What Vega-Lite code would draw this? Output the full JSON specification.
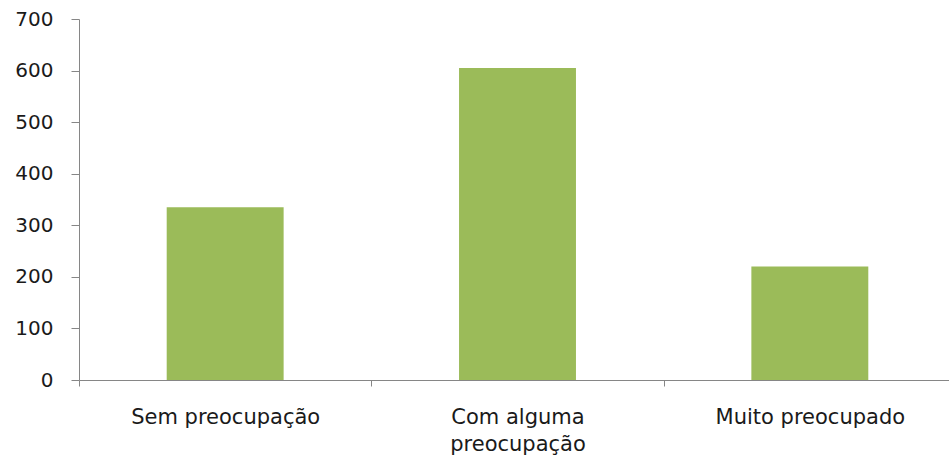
{
  "$schema": "https://vega.github.io/schema/vega-lite/v6.json",
  "autosize": {"type": "none"},
  "padding": {"left": 79, "top": 19, "right": 0, "bottom": 75},
  "width": 877,
  "height": 361,
  "background": "#ffffff",
  "data": {
    "values": [
      {"categoria": "Sem preocupação", "valor": 335},
      {"categoria": "Com alguma preocupação", "valor": 605},
      {"categoria": "Muito preocupado", "valor": 220}
    ]
  },
  "mark": {"type": "bar", "color": "#9BBB59", "width": {"band": 0.4}},
  "encoding": {
    "x": {
      "field": "categoria",
      "type": "nominal",
      "sort": null,
      "scale": {"paddingInner": 0, "paddingOuter": 0},
      "axis": {
        "title": null,
        "labelAngle": 0,
        "tickBand": "extent",
        "tickSize": 6,
        "labelPadding": 20,
        "labelFont": "DejaVu Sans",
        "labelFontSize": 21,
        "labelColor": "#1a1a1a",
        "labelLineHeight": 27,
        "labelExpr": "datum.value == 'Com alguma preocupação' ? ['Com alguma', 'preocupação'] : datum.value",
        "domainColor": "#868686",
        "tickColor": "#868686",
        "labelLimit": 400
      }
    },
    "y": {
      "field": "valor",
      "type": "quantitative",
      "scale": {"domain": [0, 700], "nice": false},
      "axis": {
        "title": null,
        "values": [0, 100, 200, 300, 400, 500, 600, 700],
        "grid": false,
        "tickSize": 8,
        "labelPadding": 18,
        "labelFont": "DejaVu Sans",
        "labelFontSize": 20,
        "labelColor": "#1a1a1a",
        "domainColor": "#868686",
        "tickColor": "#868686"
      }
    }
  },
  "config": {"view": {"stroke": null}}
}
